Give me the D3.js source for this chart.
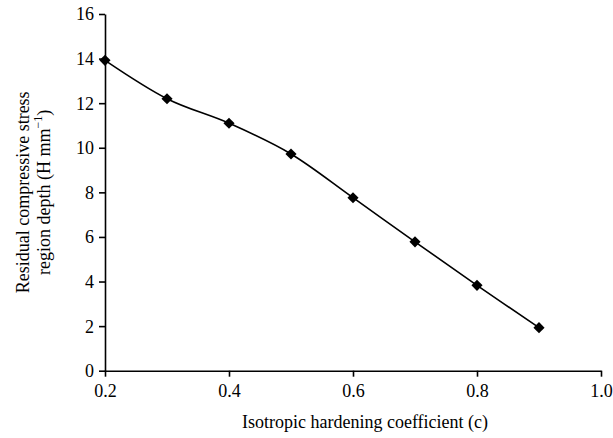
<!DOCTYPE html>
<html>
<head>
<meta charset="utf-8">
<script src="https://cdn.jsdelivr.net/npm/d3@7"></script>
<style>
  html, body { margin: 0; padding: 0; background: #fff; }
  svg { display: block; }
  text { font-family: "Liberation Serif", "Times New Roman", serif; fill: #000; }
</style>
</head>
<body>
<svg id="chart" width="613" height="438"></svg>
<script>
// Hardening coefficient c and the resulting compressive region depth
const coefficients = [0.2, 0.3, 0.4, 0.5, 0.6, 0.7, 0.8, 0.9];
const depths = [13.92, 12.2, 11.1, 9.72, 7.76, 5.78, 3.83, 1.93];
const xTicks = [0.2, 0.4, 0.6, 0.8, 1.0];
const yTicks = [0, 2, 4, 6, 8, 10, 12, 14, 16];

const svg = d3.select("#chart");
const plotLeft = 105, plotRight = 601, plotTop = 14, plotBottom = 370.7;
const fontSize = 18;

const x = d3.scaleLinear().domain([0.2, 1.0]).range([plotLeft, plotRight]);
const y = d3.scaleLinear().domain([0, 16]).range([plotBottom, plotTop]);

// Axes
const xAxis = svg.append("g")
  .attr("transform", `translate(0,${plotBottom})`)
  .call(d3.axisBottom(x).tickValues(xTicks).tickFormat(d3.format(".1f")).tickSize(6).tickSizeOuter(0));
const yAxis = svg.append("g")
  .attr("transform", `translate(${plotLeft},0)`)
  .call(d3.axisLeft(y).tickValues(yTicks).tickFormat(d3.format("d")).tickSize(6).tickSizeOuter(0));

[xAxis, yAxis].forEach(g => {
  g.select(".domain").attr("stroke", "#000").attr("stroke-width", 1.6);
  g.selectAll(".tick line").attr("stroke", "#000").attr("stroke-width", 1.6);
  g.selectAll(".tick text").attr("font-size", fontSize).attr("font-family", "Liberation Serif, serif").attr("fill", "#000");
});
xAxis.selectAll(".tick text").attr("dy", null).attr("y", 26);
yAxis.selectAll(".tick text").attr("x", -11).attr("dy", "0.33em");

// Smoothed series line
const pts = coefficients.map((c, i) => [c, depths[i]]);
svg.append("path")
  .datum(pts)
  .attr("fill", "none")
  .attr("stroke", "#000")
  .attr("stroke-width", 1.6)
  .attr("d", d3.line().x(d => x(d[0])).y(d => y(d[1])).curve(d3.curveCardinal.tension(0)));

// Diamond markers
svg.append("g").selectAll("path")
  .data(pts)
  .join("path")
  .attr("transform", d => `translate(${x(d[0])},${y(d[1])}) rotate(45)`)
  .attr("d", d3.symbol().type(d3.symbolSquare).size(62))
  .attr("fill", "#000");

// Axis titles
svg.append("text")
  .attr("x", 365).attr("y", 428)
  .attr("text-anchor", "middle")
  .attr("font-size", fontSize)
  .text("Isotropic hardening coefficient (c)");

const yTitle = svg.append("text")
  .attr("transform", `translate(0,${(plotTop + plotBottom) / 2}) rotate(-90)`)
  .attr("text-anchor", "middle")
  .attr("font-size", fontSize);
yTitle.append("tspan").attr("x", 0).attr("y", 29).text("Residual compressive stress");
const l2 = yTitle.append("tspan").attr("x", 0).attr("y", 50);
l2.append("tspan").text("region depth (H mm");
l2.append("tspan").attr("dy", -8).attr("font-size", 12).text("\u22121");
l2.append("tspan").attr("dy", 8).text(")");
</script>
</body>
</html>
